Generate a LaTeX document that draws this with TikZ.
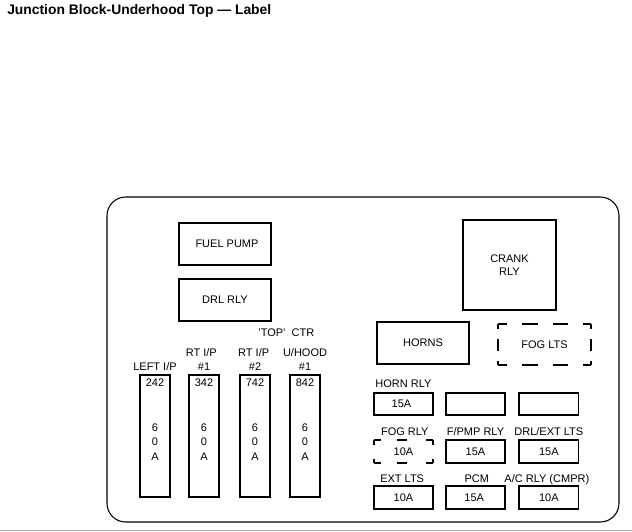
\documentclass[tikz,border=0pt]{standalone}
\usepackage{fontspec}
\setmainfont{Liberation Sans}
\usetikzlibrary{positioning}

\tikzset{
  box/.style={draw,line width=1.3pt,inner sep=0pt,outer sep=0pt,font=\fontsize{8.25}{9.5}\selectfont,align=center},
  relaybox/.style={box,minimum width=69pt,minimum height=31.5pt},
  fusebox/.style={box,minimum width=44.5pt,minimum height=17pt},
  maxibox/.style={box,line width=1.5pt,minimum width=22.5pt,minimum height=91.5pt},
  hollowbox/.style={box,draw=none},
  caption/.style={inner sep=0pt,outer sep=0pt,font=\fontsize{8.25}{9.5}\selectfont,text height=6pt,text depth=0pt,align=center},
  amps/.style={inner sep=0pt,outer sep=0pt,font=\fontsize{8.25}{11}\selectfont,align=center},
  hdash/.style={line width=1.3pt,dash pattern=on 6.75pt off 11.25pt on 12pt off 11.25pt on 11.25pt off 11.25pt on 6.75pt off 100pt},
  vdash/.style={line width=1.3pt,dash pattern=on 3.75pt off 7.5pt on 9pt off 7.5pt on 3.75pt off 100pt},
  shdash/.style={line width=1.3pt,dash pattern=on 5pt off 12pt on 8pt off 14pt on 5.5pt off 100pt},
  svdash/.style={line width=1.3pt,dash pattern=on 3.5pt off 10.5pt on 3.5pt off 100pt},
}

\begin{document}
\begin{tikzpicture}[x=0.75pt,y=-0.75pt,node distance=3.75pt]
  \useasboundingbox (0,0) rectangle (632,532);
  \node[anchor=west,inner sep=0pt,font=\bfseries\fontsize{10.4}{12}\selectfont] (title) at (7,11) {Junction Block-Underhood Top --- Label};
  \draw[line width=0.8pt,rounded corners=14pt] (107,197) rectangle (619,522);
  \draw[line width=1pt,gray!70] (0,530.5) -- (632,530.5);
  %
  \node[relaybox] (fuelpump) at (225,244) {\hspace*{3pt}FUEL PUMP};
  \node[relaybox,below=10.5pt of fuelpump] (drlrly) {DRL RLY};
  \node[box,minimum width=69.5pt,minimum height=67.5pt] (crank) at (509.5,265) {CRANK\\RLY};
  \node[relaybox] (horns) at (423,343) {HORNS};
  \node[hollowbox,minimum width=69.5pt,minimum height=31pt] (foglts) at (544.5,344.5) {FOG LTS};
  \draw[hdash] (foglts.north west) -- (foglts.north east);
  \draw[hdash] (foglts.south west) -- (foglts.south east);
  \draw[vdash] (foglts.north west) -- (foglts.south west);
  \draw[vdash] (foglts.north east) -- (foglts.south east);
  %
  \node[maxibox] (fuse242) at (155,436) {};
  \node[maxibox,right=14.25pt of fuse242] (fuse342) {};
  \node[maxibox,right=15.75pt of fuse342] (fuse742) {};
  \node[maxibox,right=15pt of fuse742] (fuse842) {};
  \foreach \fuse/\num in {fuse242/242,fuse342/342,fuse742/742,fuse842/842} {
    \node[caption,below=2.5pt of \fuse.north] (\fuse num) {\num};
    \node[amps,yshift=-4.5pt] (\fuse amps) at (\fuse) {6\\0\\A};
  }
  \node[caption,above=3.75pt of fuse242] (leftip) {LEFT I/P};
  \node[caption,above=3.75pt of fuse342] (rtipone) {\#1};
  \node[caption,above=4.5pt of rtipone,xshift=-2pt] (rtiponetop) {RT I/P};
  \node[caption,above=3.75pt of fuse742] (rtiptwo) {\#2};
  \node[caption,above=4.5pt of rtiptwo,xshift=-1pt] (rtiptwotop) {RT I/P};
  \node[caption,above=3.75pt of fuse842] (uhoodone) {\#1};
  \node[caption,above=4.5pt of uhoodone] (uhood) {U/HOOD};
  \node[caption,above=9pt of uhood,xshift=-14pt] (topctr) {'TOP'\ \ CTR};
  %
  \node[fusebox] (hornrly) at (403.5,404) {\hspace*{-3pt}15A};
  \node[fusebox,right=9.5pt of hornrly] (blankone) {};
  \node[fusebox,right=10.5pt of blankone] (blanktwo) {};
  \node[hollowbox,minimum width=44.5pt,minimum height=17.5pt,below=18.5pt of hornrly] (fogrly) {10A};
  \node[fusebox,right=9.5pt of fogrly] (fpmprly) {15A};
  \node[fusebox,right=10.5pt of fpmprly] (drlext) {15A};
  \node[fusebox,below=17pt of fogrly] (extlts) {10A};
  \node[fusebox,right=9.5pt of extlts] (pcm) {\hspace*{-2pt}15A};
  \node[fusebox,right=10.5pt of pcm] (acrly) {10A};
  \draw[shdash] (fogrly.north west) -- (fogrly.north east);
  \draw[shdash] (fogrly.south west) -- (fogrly.south east);
  \draw[svdash] (fogrly.north west) -- (fogrly.south west);
  \draw[svdash] (fogrly.north east) -- (fogrly.south east);
  %
  \node[caption,above=of hornrly] (hornlabel) {HORN RLY};
  \node[caption,above=of fogrly,xshift=1pt] (foglabel) {FOG RLY};
  \node[caption,above=of fpmprly] (fpmplabel) {F/PMP RLY};
  \node[caption,above=of drlext] (drllabel) {DRL/EXT LTS};
  \node[caption,above=3pt of extlts,xshift=-1pt] (extlabel) {EXT LTS};
  \node[caption,above=3pt of pcm,xshift=1pt] (pcmlabel) {PCM};
  \node[caption,above=3pt of acrly,xshift=-1.5pt] (aclabel) {A/C RLY (CMPR)};
\end{tikzpicture}
\end{document}
